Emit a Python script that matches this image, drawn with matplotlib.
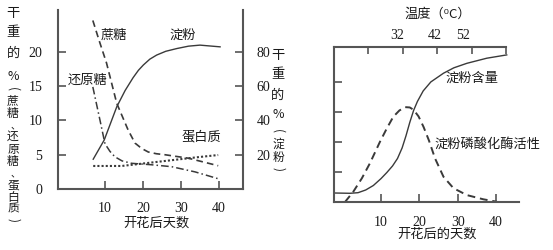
import numpy as np
import matplotlib
matplotlib.use('Agg')
import matplotlib.pyplot as plt

plt.rcParams['font.family'] = ['Noto Sans CJK SC', 'DejaVu Sans']

# left panel: dry weight % after flowering
sucrose_days = [6.8, 8.5, 10.4, 13.1, 16.1, 17.9, 19.7, 21.4, 23.5, 25.8, 31.9, 39.8]
sucrose_pct = [24.6, 21.6, 18.4, 12.5, 8.6, 6.7, 5.9, 5.4, 5.15, 5.0, 4.5, 3.4]

reducing_days = [6.8, 8.7, 10.0, 11.3, 12.6, 14.5, 17.0, 22.0, 27.5, 33.7, 39.8]
reducing_pct = [14.9, 10.0, 6.6, 5.5, 4.7, 4.1, 3.75, 3.55, 3.26, 2.5, 1.5]

protein_days = [6.9, 14.4, 20.5, 27.5, 33.7, 39.8]
protein_pct = [3.36, 3.36, 3.75, 4.2, 4.6, 4.96]

starch_days = [6.9, 9.8, 13.1, 15.3, 17.4, 18.8, 20.1, 21.8, 23.6, 26.0, 28.9, 32.0, 35.0, 40.3]
starch_pct = [17.4, 28.6, 48, 57.5, 65.0, 69.3, 72.4, 75.8, 78.2, 80.4, 82, 83.4, 84, 83.0]

left_yticks = [0, 5, 10, 15, 20]
right_yticks = [20, 40, 60, 80]
day_ticks = [10, 20, 30, 40]

# right panel: starch content and starch phosphorylase activity
content_days = [-2.3, 1.9, 4.0, 6.0, 8.0, 10.0, 11.5, 13.0, 14.3, 15.5, 16.5, 17.5,
                18.5, 19.5, 21.0, 23.0, 26.3, 29.0, 32.4, 37.6, 42.8]
content_val = [0.3, 0.29, 0.31, 0.4, 0.55, 0.78, 0.98, 1.2, 1.45, 1.8, 2.2, 2.65,
               3.05, 3.35, 3.7, 4.0, 4.29, 4.47, 4.62, 4.79, 4.9]

enzyme_days = [0.6, 2.8, 5.0, 7.1, 9.7, 11.5, 13.2, 14.8, 16.3, 17.5, 18.5, 19.8,
               21.1, 22.5, 24.1, 26.3, 28.9, 32.4, 36.7, 40.2]
enzyme_val = [0, 0.35, 0.79, 1.29, 2.0, 2.45, 2.84, 3.05, 3.16, 3.15, 3.07, 2.85,
              2.5, 2.05, 1.45, 0.84, 0.46, 0.23, 0.09, 0.01]

temp_tick_days = [6.6, 15.7, 24.6, 33.7, 42.6]
temp_label_days = [14.2, 24.1, 31.4]
temp_labels = ['32', '42', '52']

W, H = 553, 250
LINE = '#3a3a3a'
SPINE = '#555555'
TXT = '#1a1a1a'
DIGITS = 'Liberation Serif'


def box(l, t, r, b):
    return [l / W, 1 - b / H, (r - l) / W, (b - t) / H]


def fpos(x, y):
    return x / W, 1 - y / H


def vertical_label(chars, x, ys, sizes):
    # stack characters top to bottom, brackets turned as in vertical writing
    for ch, y, size in zip(chars, ys, sizes):
        rot = -90 if ch in '()' else 0
        dx = 2 if ch == '、' else 0
        if ch == '、':
            size = 7
        fig.text(*fpos(x + dx, y), ch, ha='center', va='center', fontsize=size,
                 color=TXT, rotation=rot, family=['Noto Sans CJK SC', 'DejaVu Sans'])


fig = plt.figure(figsize=(W / 100, H / 100), dpi=100)

# ---------------- left panel ----------------
ax1 = fig.add_axes(box(57.5, 9.5, 242.5, 189))
ax1.set_xlim(-2.5, 46.2)
ax1.set_ylim(0, 26.2)
ax1r = ax1.twinx()
ax1r.set_ylim(0, 26.2 * 4)

ax1.plot(sucrose_days, sucrose_pct, color=LINE, lw=1.2, ls=(0, (4, 2.5)))
ax1.plot(reducing_days, reducing_pct, color=LINE, lw=1.1, ls=(0, (5, 2, 1, 2)))
ax1.plot(protein_days, protein_pct, color=LINE, lw=1.5, ls=(0, (1, 1)))
ax1r.plot(starch_days, starch_pct, color=LINE, lw=1.0)

for s in ['top', 'right']:
    ax1.spines[s].set_visible(False)
for s in ['top', 'left', 'bottom']:
    ax1r.spines[s].set_visible(False)
for a in (ax1, ax1r):
    for s in a.spines.values():
        s.set_color(SPINE)
        s.set_linewidth(1.5)

ax1.set_xticks(day_ticks)
ax1.set_yticks(left_yticks)
ax1r.set_yticks(right_yticks)
ax1.tick_params(axis='both', direction='in', length=6, width=1.2, color=SPINE,
                labelsize=10, labelcolor=TXT, labelfontfamily=DIGITS)
ax1.tick_params(axis='x', pad=9)
ax1.tick_params(axis='y', pad=11)
ax1r.tick_params(axis='y', direction='in', length=6, width=1.2, color=SPINE,
                 labelsize=10, labelcolor=TXT, labelfontfamily=DIGITS, pad=10)

ax1.text(12.4, 22.5, '蔗糖', ha='center', va='center', fontsize=9.5, color=TXT)
ax1.text(30.5, 22.5, '淀粉', ha='center', va='center', fontsize=9.5, color=TXT)
ax1.text(5.3, 15.9, '还原糖', ha='center', va='center', fontsize=9.5, color=TXT)
ax1.text(35.5, 7.6, '蛋白质', ha='center', va='center', fontsize=9.5, color=TXT)

fig.text(*fpos(156, 223), '开花后天数', ha='center', va='center', fontsize=9.5, color=TXT)

left_chars = ['干', '重', '的', '%', '(', '蔗', '糖', '、', '还', '原', '糖', '、',
              '蛋', '白', '质', ')']
vertical_label(left_chars, 13,
               [13, 33, 53, 77, 89, 101, 114, 125, 136, 149, 162, 173, 185, 197, 209, 220],
               [9.5, 9.5, 9.5, 9] + [8.5] * 12)
right_chars = ['干', '重', '的', '%', '(', '淀', '粉', ')']
vertical_label(right_chars, 278, [56, 75, 95, 115, 131, 144, 157, 169],
               [9.5, 9.5, 9.5, 9] + [8.5] * 4)

# ---------------- right panel ----------------
ax2 = fig.add_axes(box(334, 46.5, 519, 202))
ax2.set_xlim(-2.27, 46.0)
ax2.set_ylim(0, 5.18)

ax2.plot(content_days, content_val, color=LINE, lw=1.0)
ax2.plot(enzyme_days, enzyme_val, color=LINE, lw=1.4, ls=(0, (4, 2.5)))

ax2.spines['top'].set_visible(False)
ax2.spines['right'].set_visible(False)
for s in ax2.spines.values():
    s.set_color(SPINE)
    s.set_linewidth(1.5)
ax2.set_xticks(day_ticks)
ax2.set_yticks([1, 2, 3, 4])
ax2.set_yticklabels([])
ax2.tick_params(axis='both', direction='in', length=6, width=1.2, color=SPINE,
                labelsize=10, labelcolor=TXT, labelfontfamily=DIGITS)
ax2.tick_params(axis='x', pad=10)

ax2t = ax2.twiny()
ax2t.set_xlim(ax2.get_xlim())
for s in ['left', 'right', 'bottom']:
    ax2t.spines[s].set_visible(False)
ax2t.spines['top'].set_color(SPINE)
ax2t.spines['top'].set_linewidth(1.5)
ax2t.spines['top'].set_bounds(-2.27, temp_tick_days[-1])
ax2t.set_xticks(temp_tick_days)
ax2t.set_xticklabels([])
ax2t.set_xticks(temp_label_days, temp_labels, minor=True)
ax2t.tick_params(axis='x', which='major', direction='in', length=5, width=1.2, color=SPINE)
ax2t.tick_params(axis='x', which='minor', length=0, pad=3, labelsize=10,
                 labelcolor=TXT, labelfontfamily=DIGITS)

ax2.text(33.8, 4.13, '淀粉含量', ha='center', va='center', fontsize=9.5, color=TXT)
ax2.text(37.7, 1.93, '淀粉磷酸化酶活性', ha='center', va='center', fontsize=9.5, color=TXT)

fig.text(*fpos(438, 14), '温度（⁰C）', ha='center', va='center', fontsize=9.5, color=TXT)
fig.text(*fpos(437, 234), '开花后的天数', ha='center', va='center', fontsize=9.5, color=TXT)

fig.savefig('out.png', dpi=100, facecolor='white')
